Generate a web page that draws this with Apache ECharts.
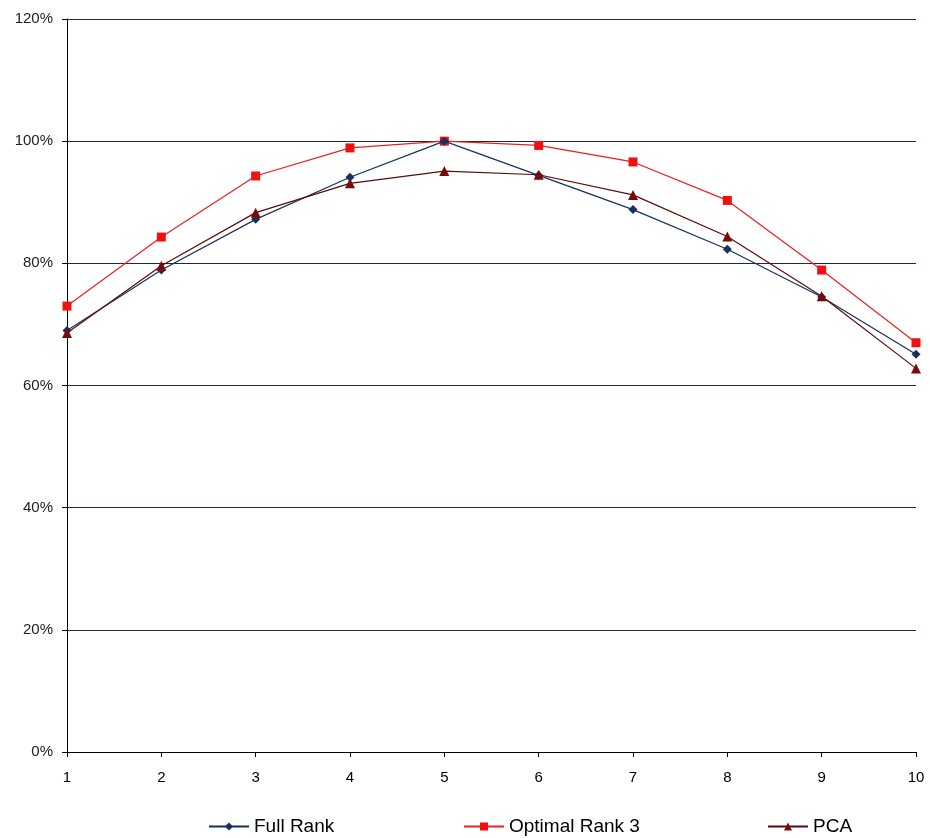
<!DOCTYPE html>
<html><head><meta charset="utf-8">
<script src="https://cdn.jsdelivr.net/npm/echarts@6/dist/echarts.min.js"></script>
<style>html,body{margin:0;padding:0;background:#fff}#c{width:930px;height:838px}</style>
</head><body><div id="c"></div>
<script>
var categories = ['1','2','3','4','5','6','7','8','9','10'];
var fullRank = [69.0, 78.9, 87.2, 94.1, 100.0, 94.4, 88.8, 82.3, 74.5, 65.1];
var optimalRank3 = [73.0, 84.3, 94.3, 98.9, 100.0, 99.3, 96.6, 90.3, 78.9, 67.0];
var pca = [68.6, 79.6, 88.3, 93.1, 95.1, 94.5, 91.2, 84.4, 74.6, 62.8];
var seriesNames = ['Full Rank', 'Optimal Rank 3', 'PCA'];

var font = '"Liberation Sans", Arial, sans-serif';
var chart = echarts.init(document.getElementById('c'), null, {renderer: 'canvas'});
function legendFor(name, left) {
  return {
    data: [name], left: left, top: 812, itemWidth: 40, itemHeight: 10,
    textStyle: {fontFamily: font, fontSize: 19, color: '#000'}, itemGap: 4
  };
}
chart.setOption({
  animation: false,
  backgroundColor: '#fff',
  grid: {left: 67, right: 14, top: 19, bottom: 86, containLabel: false},
  legend: [legendFor(seriesNames[0], 203), legendFor(seriesNames[1], 458), legendFor(seriesNames[2], 762)],
  xAxis: {
    type: 'category', data: categories, boundaryGap: false,
    axisLine: {lineStyle: {color: '#000', width: 1}},
    axisTick: {show: true, alignWithLabel: true, length: 5, lineStyle: {color: '#000'}},
    axisLabel: {fontFamily: font, fontSize: 15, color: '#000', margin: 18}
  },
  yAxis: {
    type: 'value', min: 0, max: 120, interval: 20,
    axisLine: {show: true, lineStyle: {color: '#000', width: 1}},
    axisTick: {show: true, length: 5, inside: false, lineStyle: {color: '#000'}},
    axisLabel: {fontFamily: font, fontSize: 15, color: '#222', margin: 14, formatter: '{value}%'},
    splitLine: {show: true, lineStyle: {color: '#1a2a4a', width: 1.2}}
  },
  series: [
    {name: seriesNames[0], type: 'line', data: fullRank, symbol: 'diamond', symbolSize: 9,
     itemStyle: {color: '#15315f'}, lineStyle: {color: '#15315f', width: 1.2}, z: 3},
    {name: seriesNames[1], type: 'line', data: optimalRank3, symbol: 'rect', symbolSize: 9,
     itemStyle: {color: '#f01010'}, lineStyle: {color: '#e82020', width: 1.2}, z: 2},
    {name: seriesNames[2], type: 'line', data: pca, symbol: 'triangle', symbolSize: 10,
     itemStyle: {color: '#7a0a0a'}, lineStyle: {color: '#5a0c0c', width: 1.2}, z: 4}
  ]
});
</script></body></html>
